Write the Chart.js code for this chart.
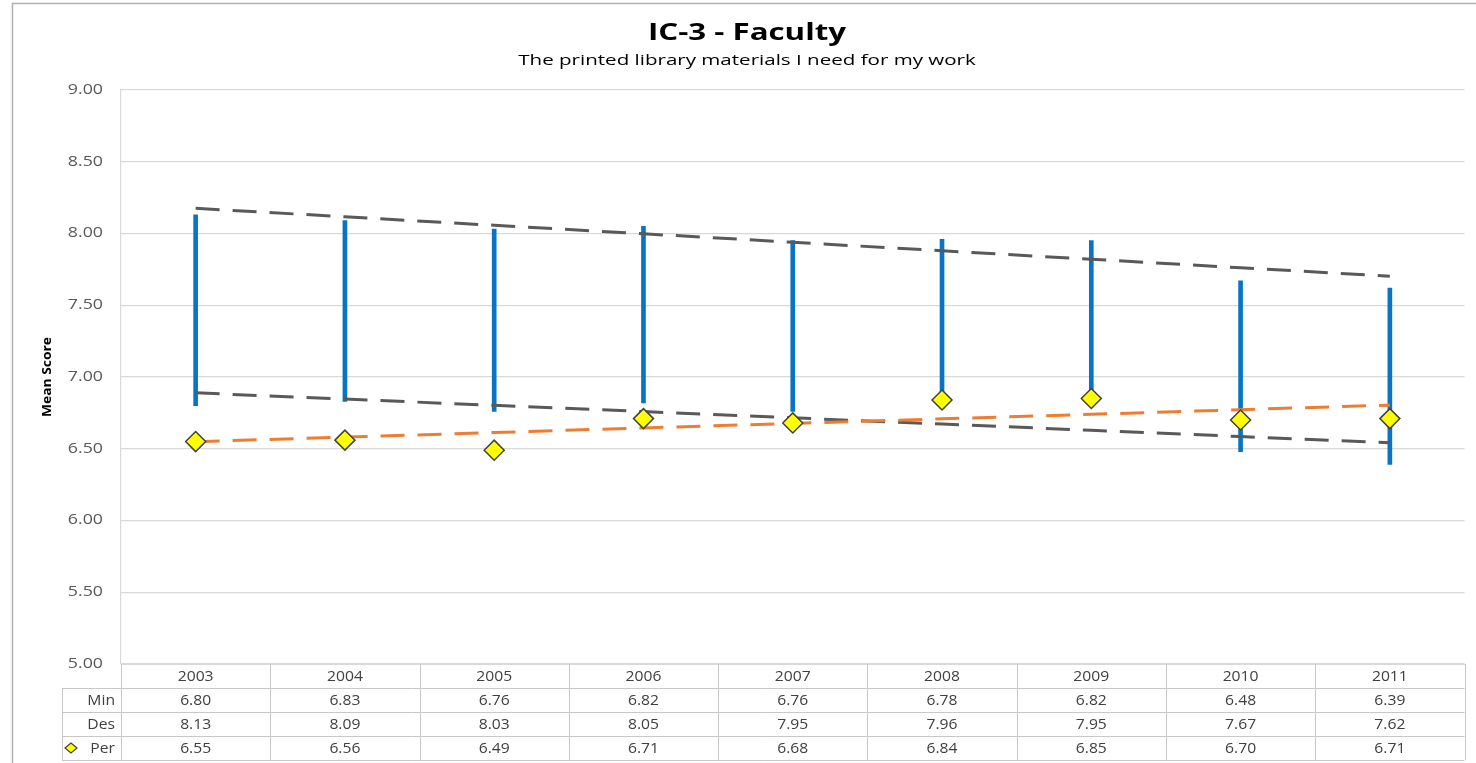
<!DOCTYPE html>
<html>
<head>
<meta charset="utf-8">
<script src="https://cdn.jsdelivr.net/npm/chart.js@4.4.1/dist/chart.umd.min.js"></script>
<style>
  html, body { margin: 0; padding: 0; background: #fff; }
  #wrap { width: 1476px; height: 763px; position: relative; }
</style>
</head>
<body>
<div id="wrap"><canvas id="icChart"></canvas></div>
<script>
// ─── Data ───────────────────────────────────────────────────────────────────
const years = ['2003', '2004', '2005', '2006', '2007', '2008', '2009', '2010', '2011'];
const minScores = [6.80, 6.83, 6.76, 6.82, 6.76, 6.78, 6.82, 6.48, 6.39];
const desScores = [8.13, 8.09, 8.03, 8.05, 7.95, 7.96, 7.95, 7.67, 7.62];
const perScores = [6.55, 6.56, 6.49, 6.71, 6.68, 6.84, 6.85, 6.70, 6.71];
const yTicks = [5, 5.5, 6, 6.5, 7, 7.5, 8, 8.5, 9];
const rowLabels = ['Min', 'Des', 'Per'];
const chartTitle = 'IC-3 - Faculty';
const chartSubtitle = 'The printed library materials I need for my work';
const yTitle = 'Mean Score';

const FONT = '"Open Sans", sans-serif';
const GRID = '#d9d9d9';
const TEXT = '#404040';

// Excel-style linear trendline through a series
function trend(values) {
  const n = values.length;
  const mx = (n - 1) / 2;
  const my = values.reduce((a, b) => a + b, 0) / n;
  let sxy = 0, sxx = 0;
  values.forEach((v, i) => { sxy += (i - mx) * (v - my); sxx += (i - mx) ** 2; });
  const slope = sxy / sxx;
  return values.map((_, i) => my + slope * (i - mx));
}

// the source picture is a horizontally stretched Excel export, so text is widened a bit
function wideText(ctx, text, x, y, sx, align) {
  ctx.save();
  ctx.translate(x, y);
  ctx.scale(sx, 1);
  ctx.textAlign = align;
  ctx.fillText(text, 0, 0);
  ctx.restore();
}

// ─── Frame, titles, y labels, data table ────────────────────────────────────
const tablePlugin = {
  id: 'dataTable',
  beforeDraw(chart) {
    const ctx = chart.ctx;
    ctx.save();
    ctx.strokeStyle = '#b0b0b0';
    ctx.lineWidth = 1.5;
    ctx.beginPath();
    ctx.moveTo(12.5, 800);
    ctx.lineTo(12.5, 3.5);
    ctx.lineTo(1476, 3.5);
    ctx.stroke();
    ctx.restore();
  },
  afterDraw(chart) {
    const { ctx, chartArea, scales } = chart;
    const x = scales.x, y = scales.y;
    const left = chartArea.left, right = chartArea.right;
    const top = chartArea.bottom;
    const rowH = 24;
    const labelLeft = 62;
    const colW = (right - left) / years.length;
    const mid = (12 + chart.width) / 2 + 3;

    ctx.save();
    ctx.textBaseline = 'middle';

    // titles
    ctx.fillStyle = '#000';
    ctx.font = 'bold 23px ' + FONT;
    wideText(ctx, chartTitle, mid, 33, 1.36, 'center');
    ctx.font = '15px ' + FONT;
    wideText(ctx, chartSubtitle, mid, 61, 1.37, 'center');

    // y axis title
    ctx.save();
    ctx.translate(48, (chartArea.top + chartArea.bottom) / 2);
    ctx.rotate(-Math.PI / 2);
    ctx.font = 'bold 12px ' + FONT;
    wideText(ctx, yTitle, 0, 0, 1.15, 'center');
    ctx.restore();

    // y tick labels
    ctx.fillStyle = '#595959';
    ctx.font = '14px ' + FONT;
    yTicks.forEach(v => {
      wideText(ctx, v.toFixed(2), left - 18, y.getPixelForValue(v), 1.27, 'right');
    });

    // table grid
    ctx.strokeStyle = '#c8c8c8';
    ctx.lineWidth = 1;
    for (let r = 1; r <= 4; r++) {
      const yy = Math.round(top + r * rowH) + 0.5;
      ctx.beginPath();
      ctx.moveTo(labelLeft, yy);
      ctx.lineTo(right, yy);
      ctx.stroke();
    }
    for (let c = 0; c <= years.length; c++) {
      const xx = Math.round(left + c * colW) + 0.5;
      ctx.beginPath();
      ctx.moveTo(xx, top);
      ctx.lineTo(xx, top + 4 * rowH);
      ctx.stroke();
    }
    ctx.beginPath();
    ctx.moveTo(labelLeft + 0.5, top + rowH);
    ctx.lineTo(labelLeft + 0.5, top + 4 * rowH);
    ctx.stroke();

    // table text
    ctx.fillStyle = TEXT;
    ctx.font = '14px ' + FONT;
    const rows = [minScores, desScores, perScores];
    years.forEach((yr, i) => {
      const cx = x.getPixelForValue(i);
      wideText(ctx, yr, cx, top + rowH / 2 + 1, 1.12, 'center');
      rows.forEach((vals, r) => {
        wideText(ctx, vals[i].toFixed(2), cx, top + (r + 1) * rowH + rowH / 2 + 1, 1.12, 'center');
      });
    });
    rowLabels.forEach((lbl, r) => {
      wideText(ctx, lbl, left - 6, top + (r + 1) * rowH + rowH / 2 + 1, 1.12, 'right');
    });

    // legend key for Per
    const ky = top + 3 * rowH + rowH / 2;
    const kx = 71;
    ctx.beginPath();
    ctx.moveTo(kx - 6, ky);
    ctx.lineTo(kx, ky - 5);
    ctx.lineTo(kx + 6, ky);
    ctx.lineTo(kx, ky + 5);
    ctx.closePath();
    ctx.fillStyle = '#ffff00';
    ctx.fill();
    ctx.strokeStyle = '#404040';
    ctx.lineWidth = 1.2;
    ctx.stroke();
    ctx.restore();
  }
};

// ─── Chart ──────────────────────────────────────────────────────────────────
const ctx = document.getElementById('icChart').getContext('2d');
new Chart(ctx, {
  data: {
    labels: years,
    datasets: [
      {
        type: 'line',
        label: 'Per',
        data: perScores,
        showLine: false,
        pointStyle: 'rectRot',
        pointRadius: 10,
        pointBackgroundColor: '#ffff00',
        pointBorderColor: '#404040',
        pointBorderWidth: 1.5,
        order: 0,
      },
      {
        type: 'line',
        label: 'Per trend',
        data: trend(perScores),
        borderColor: '#ed7d31',
        borderWidth: 3,
        borderDash: [24, 13],
        pointRadius: 0,
        order: 1,
      },
      {
        type: 'line',
        label: 'Des trend',
        data: trend(desScores),
        borderColor: '#595959',
        borderWidth: 3,
        borderDash: [24, 13],
        pointRadius: 0,
        order: 1,
      },
      {
        type: 'line',
        label: 'Min trend',
        data: trend(minScores),
        borderColor: '#595959',
        borderWidth: 3,
        borderDash: [24, 13],
        pointRadius: 0,
        order: 1,
      },
      {
        type: 'bar',
        label: 'Range',
        data: minScores.map((m, i) => [m, desScores[i]]),
        backgroundColor: '#0a74c4',
        barThickness: 4,
        borderSkipped: false,
        order: 2,
      }
    ]
  },
  options: {
    responsive: true,
    maintainAspectRatio: false,
    animation: false,
    layout: { padding: { left: 121, right: 7, top: 90, bottom: 99 } },
    plugins: {
      legend: { display: false },
      tooltip: { enabled: false },
      title: { display: false },
    },
    scales: {
      x: {
        type: 'category',
        offset: true,
        ticks: { display: false },
        grid: { display: false, drawTicks: false },
        border: { display: true, color: GRID },
      },
      y: {
        min: 5,
        max: 9,
        afterBuildTicks: (axis) => { axis.ticks = yTicks.map(v => ({ value: v })); },
        ticks: { display: false },
        grid: { color: GRID, lineWidth: 1.2, drawTicks: false },
        border: { display: true, color: GRID, width: 1.2 },
      }
    }
  },
  plugins: [tablePlugin]
});
</script>
</body>
</html>
